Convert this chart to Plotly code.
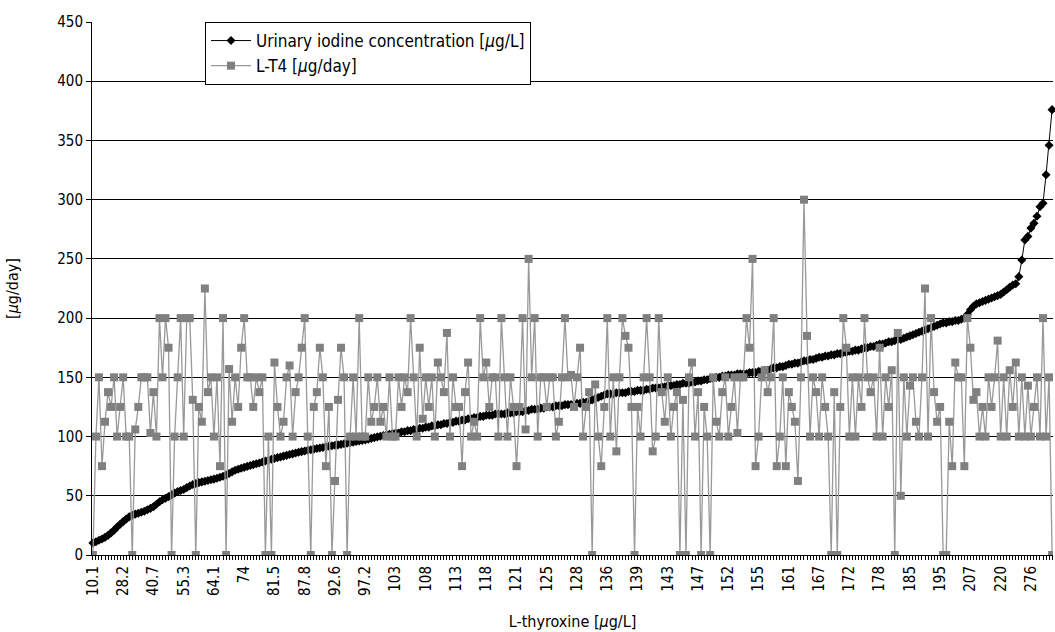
import plotly.graph_objects as go

# Tick labels (every 10th category on the x axis)
tick_labels = ["10.1", "28.2", "40.7", "55.3", "64.1", "74", "81.5", "87.8", "92.6", "97.2",
               "103", "108", "113", "118", "121", "125", "128", "136", "139", "143",
               "147", "152", "155", "161", "167", "172", "178", "185", "195", "207",
               "220", "276"]

# Urinary iodine concentration [ug/L] (sorted ascending)
urinary = [
    10.1, 11.2, 12.4, 13.5, 14.9, 16.6, 18.7, 21.0, 23.6, 26.0,
    28.2, 30.3, 32.2, 33.6, 34.5, 35.3, 36.1, 37.0, 38.2, 39.4,
    40.7, 42.9, 45.0, 46.6, 47.9, 49.3, 50.8, 52.2, 53.5, 54.4,
    55.3, 56.9, 58.3, 59.5, 60.4, 61.1, 61.7, 62.3, 62.9, 63.5,
    64.1, 64.8, 65.6, 66.5, 67.5, 68.8, 70.2, 71.5, 72.4, 73.2,
    74.0, 74.8, 75.6, 76.3, 77.0, 77.7, 78.5, 79.3, 80.1, 80.8,
    81.5, 82.2, 82.8, 83.5, 84.1, 84.8, 85.4, 86.1, 86.7, 87.3,
    87.8, 88.4, 88.9, 89.4, 89.9, 90.4, 90.8, 91.3, 91.8, 92.2,
    92.6, 93.0, 93.4, 93.9, 94.4, 94.8, 95.3, 95.8, 96.3, 96.8,
    97.2, 97.8, 98.5, 99.1, 99.7, 100.3, 100.9, 101.5, 102.0, 102.5,
    103, 103, 104, 104, 105, 105, 106, 106, 107, 107,
    108, 108, 109, 109, 110, 110, 111, 111, 112, 112,
    113, 113, 114, 114, 115, 115, 116, 116, 117, 117,
    118, 118, 118, 119, 119, 119, 119, 120, 120, 120,
    121, 121, 121, 122, 122, 123, 123, 123, 124, 124,
    125, 125, 125, 126, 126, 126, 127, 127, 127, 127,
    128, 128, 129, 129, 130, 131, 132, 133, 134, 135,
    136, 136, 136, 137, 137, 137, 137, 138, 138, 138,
    139, 139, 139, 140, 140, 141, 141, 141, 142, 142,
    143, 143, 143, 144, 144, 145, 145, 145, 146, 146,
    147, 147, 148, 148, 149, 149, 150, 150, 151, 151,
    152, 152, 152, 153, 153, 153, 153, 154, 154, 154,
    155, 155, 156, 156, 157, 158, 158, 159, 159, 160,
    161, 161, 162, 162, 163, 164, 164, 165, 165, 166,
    167, 167, 168, 168, 169, 169, 170, 170, 171, 171,
    172, 172, 173, 173, 174, 175, 175, 176, 176, 177,
    178, 178, 179, 180, 180, 181, 182, 182, 183, 184,
    185, 186, 187, 188, 189, 190, 191, 192, 193, 194,
    195, 196, 196, 197, 197, 198, 198, 199, 200, 203,
    207, 210, 212, 213, 214, 215, 216, 217, 218, 219,
    220, 222, 224, 226, 228, 229, 235, 249, 266, 269,
    276, 280, 286, 294, 297, 321, 346, 376,
]

# L-T4 dose [ug/day]
lt4 = [
    0, 100, 150, 75, 112.5, 137.5, 125, 150, 100, 125,
    150, 100, 100, 0, 106, 125, 150, 150, 150, 103,
    137.5, 100, 200, 150, 200, 175, 0, 100, 150, 200,
    100, 200, 200, 131, 0, 125, 112.5, 225, 137.5, 150,
    100, 150, 75, 200, 0, 157, 112.5, 150, 125, 175,
    200, 150, 150, 125, 150, 137.5, 150, 0, 100, 0,
    162.5, 125, 100, 112.5, 150, 160, 100, 137.5, 150, 175,
    200, 100, 0, 125, 137.5, 175, 150, 75, 125, 0,
    62.5, 131, 175, 150, 0, 100, 150, 100, 200, 100,
    100, 150, 112.5, 125, 150, 112.5, 125, 100, 150, 100,
    100, 150, 125, 150, 137.5, 200, 150, 100, 175, 115,
    150, 125, 150, 100, 162.5, 150, 137.5, 187.5, 100, 150,
    125, 125, 75, 137.5, 162.5, 100, 112.5, 100, 200, 150,
    162.5, 125, 150, 150, 100, 200, 150, 100, 150, 125,
    75, 125, 200, 106, 250, 150, 200, 100, 150, 150,
    125, 150, 150, 100, 112.5, 150, 200, 150, 152, 125,
    150, 175, 100, 125, 137.5, 0, 144, 100, 75, 125,
    200, 100, 150, 87.5, 150, 200, 185, 175, 125, 0,
    125, 100, 150, 200, 150, 87.5, 100, 200, 137.5, 112.5,
    150, 100, 125, 137.5, 0, 131, 0, 150, 162.5, 100,
    137.5, 0, 125, 100, 0, 150, 112.5, 100, 137.5, 150,
    100, 125, 150, 103, 150, 150, 200, 175, 250, 75,
    100, 150, 156, 137.5, 150, 200, 75, 100, 150, 75,
    137.5, 125, 112.5, 62.5, 150, 300, 185, 100, 150, 137.5,
    100, 150, 125, 100, 0, 137.5, 0, 125, 200, 175,
    100, 150, 100, 150, 125, 200, 150, 137.5, 150, 100,
    175, 100, 150, 125, 156, 0, 187.5, 50, 150, 100,
    143, 150, 112.5, 100, 150, 225, 100, 200, 137.5, 112.5,
    125, 0, 0, 112.5, 75, 162.5, 150, 150, 75, 200,
    175, 131, 137.5, 100, 125, 100, 150, 125, 150, 181,
    100, 150, 100, 156, 125, 162.5, 100, 150, 100, 143,
    100, 125, 150, 100, 200, 100, 150, 0,
]

FONT = "DejaVu Sans Condensed, Liberation Sans, sans-serif"

fig = go.Figure()
fig.add_trace(go.Scatter(
    x=list(range(len(urinary))), y=urinary, mode="lines+markers",
    name="Urinary iodine concentration [<i>µ</i>g/L]",
    line=dict(color="black", width=1),
    marker=dict(symbol="diamond", size=7, color="black"),
    cliponaxis=False,
))
fig.add_trace(go.Scatter(
    x=list(range(len(lt4))), y=lt4, mode="lines+markers",
    name="L-T4 [<i>µ</i>g/day]",
    line=dict(color="#999999", width=1.3),
    marker=dict(symbol="square", size=8, color="#808080"),
))

n = len(urinary)
fig.update_layout(
    width=1055, height=632,
    margin=dict(l=92, r=2, t=22, b=77),
    paper_bgcolor="white", plot_bgcolor="white",
    font=dict(family=FONT, size=15, color="black"),
    showlegend=True,
    legend=dict(x=0.1176, y=1.0, xanchor="left", yanchor="top",
                bgcolor="white", bordercolor="black", borderwidth=1,
                font=dict(size=17, family=FONT), tracegroupgap=0,
                itemwidth=40),
    xaxis=dict(
        range=[-0.3, n - 0.7],
        automargin=False,
        tickmode="array",
        tickvals=[i * 10 for i in range(len(tick_labels))],
        ticktext=tick_labels,
        tickangle=-90,
        ticks="outside", ticklen=4, tickcolor="black",
        minor=dict(tickmode="linear", tick0=0, dtick=1, ticks="outside",
                   ticklen=4, tickcolor="black", showgrid=False),
        showgrid=False, zeroline=False,
        showline=True, linecolor="black", linewidth=1,
        tickfont=dict(size=15, family=FONT),
        title=dict(text="L-thyroxine [<i>µ</i>g/L]", font=dict(size=16, family=FONT),
                   standoff=20),
    ),
    yaxis=dict(
        range=[0, 450], dtick=50,
        automargin=False,
        ticks="outside", ticklen=5, tickcolor="black",
        showgrid=True, gridcolor="black", gridwidth=1,
        zeroline=False,
        showline=True, linecolor="black", linewidth=1,
        tickfont=dict(size=15, family=FONT),
        title=dict(text="[<i>µ</i>g/day]", font=dict(size=16, family=FONT), standoff=34),
    ),
)

# remove the default page margin so the figure fills the window exactly
fig.write_html(
    "out.html",
    config={"displayModeBar": False},
    post_script="document.body.style.margin='0';document.body.style.overflow='hidden';",
)
